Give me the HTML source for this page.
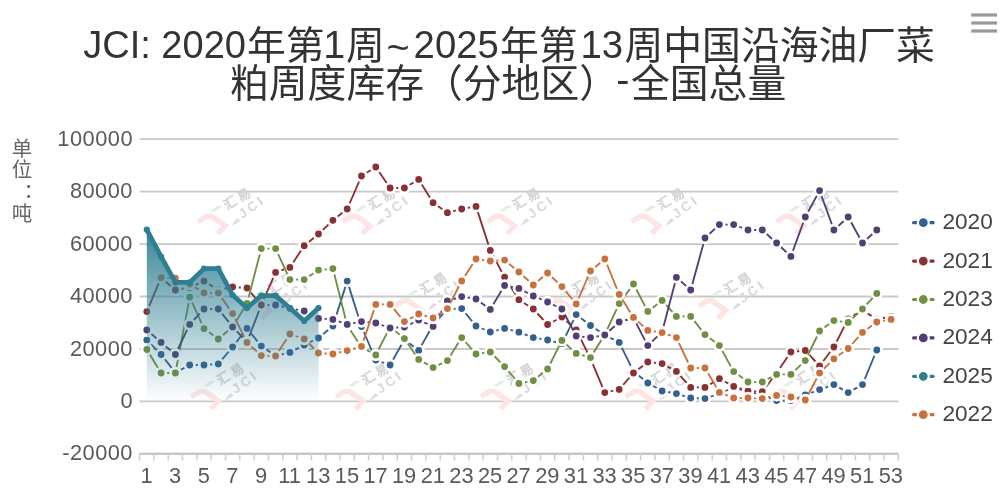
<!DOCTYPE html>
<html lang="zh"><head><meta charset="utf-8"><title>JCI chart</title>
<style>html,body{margin:0;padding:0;background:#fff;}body{width:1008px;height:500px;overflow:hidden;font-family:"Liberation Sans",sans-serif;}svg{display:block;will-change:transform;}text{font-family:"Liberation Sans",sans-serif;}.h{fill:#000;fill-opacity:0;}.cj{font-family:"Liberation Sans","Noto Sans CJK SC",sans-serif;}</style></head><body>
<svg width="1008" height="500" viewBox="0 0 1008 500">
<rect width="1008" height="500" fill="#ffffff"/>
<defs>
<linearGradient id="ag" x1="0" y1="229.6" x2="0" y2="401.4" gradientUnits="userSpaceOnUse"><stop offset="0" stop-color="#2f7f93" stop-opacity="0.95"/><stop offset="1" stop-color="#2f7f93" stop-opacity="0"/></linearGradient>
<clipPath id="pc"><rect x="139.6" y="132" width="758.7" height="322"/></clipPath>
</defs>
<g fill="#333333">
<text class="cj" x="247" y="58.5" font-size="38.8" textLength="77.6" lengthAdjust="spacingAndGlyphs">年第</text>
<text class="cj" x="346" y="58.5" font-size="38.8">周</text>
<text class="cj" x="500" y="58.5" font-size="38.8" textLength="77.6" lengthAdjust="spacingAndGlyphs">年第</text>
<text class="cj" x="624.5" y="58.5" font-size="38.8" textLength="310.4" lengthAdjust="spacingAndGlyphs">周中国沿海油厂菜</text>
<text class="cj" x="230" y="96.5" font-size="38.8" textLength="388" lengthAdjust="spacingAndGlyphs">粕周度库存（分地区）</text>
<text class="cj" x="631" y="96.5" font-size="38.8" textLength="155.2" lengthAdjust="spacingAndGlyphs">全国总量</text>
<text x="83.2" y="57.5" font-size="39.6" textLength="162.8" lengthAdjust="spacingAndGlyphs">JCI: 2020</text>
<text x="323.3" y="57.5" font-size="39.6" textLength="22" lengthAdjust="spacingAndGlyphs">1</text>
<text x="386.5" y="60.5" font-size="39.6" textLength="23.1" lengthAdjust="spacingAndGlyphs">~</text>
<text x="413.6" y="57.5" font-size="39.6" textLength="85.2" lengthAdjust="spacingAndGlyphs">2025</text>
<text x="580.5" y="57.5" font-size="39.6" textLength="42.6" lengthAdjust="spacingAndGlyphs">13</text>
<text x="616.3" y="93.2" font-size="39.6" textLength="13.2" lengthAdjust="spacingAndGlyphs">-</text>
</g>
<text class="h" x="84" y="57" font-size="38.8">JCI: 2020年第1周~2025年第13周中国沿海油厂菜</text>
<text class="h" x="230" y="96" font-size="38.8">粕周度库存（分地区）-全国总量</text>
<g fill="#999999"><rect x="971.2" y="13.4" width="25.8" height="3.2"/><rect x="971.2" y="21.4" width="25.8" height="3.2"/><rect x="971.2" y="29.4" width="25.8" height="3.2"/></g>
<g fill="#666666" class="cj" font-size="20.5">
<text class="cj" x="11.7" y="155.5">单</text>
<text class="cj" x="11.7" y="177">位</text>
<text class="cj" x="23.5" y="198">：</text>
<text class="cj" x="11.7" y="220.7">吨</text>
</g>
<text class="h" x="12" y="156" font-size="21.6">单位：吨</text>
<g stroke="#c9c9c9" stroke-width="1.8">
<line x1="139.6" y1="401.4" x2="898.3" y2="401.4"/>
<line x1="139.6" y1="349" x2="898.3" y2="349"/>
<line x1="139.6" y1="296.5" x2="898.3" y2="296.5"/>
<line x1="139.6" y1="244.1" x2="898.3" y2="244.1"/>
<line x1="139.6" y1="191.7" x2="898.3" y2="191.7"/>
<line x1="139.6" y1="139.2" x2="898.3" y2="139.2"/>
</g>
<line x1="139.6" y1="453.8" x2="898.3" y2="453.8" stroke="#bdbdbd" stroke-width="2"/>
<g stroke="#cfcfcf" stroke-width="1.5">
<line x1="139.6" y1="453.8" x2="139.6" y2="460.6"/>
<line x1="153.9" y1="453.8" x2="153.9" y2="460.6"/>
<line x1="168.2" y1="453.8" x2="168.2" y2="460.6"/>
<line x1="182.5" y1="453.8" x2="182.5" y2="460.6"/>
<line x1="196.9" y1="453.8" x2="196.9" y2="460.6"/>
<line x1="211.2" y1="453.8" x2="211.2" y2="460.6"/>
<line x1="225.5" y1="453.8" x2="225.5" y2="460.6"/>
<line x1="239.8" y1="453.8" x2="239.8" y2="460.6"/>
<line x1="254.1" y1="453.8" x2="254.1" y2="460.6"/>
<line x1="268.4" y1="453.8" x2="268.4" y2="460.6"/>
<line x1="282.8" y1="453.8" x2="282.8" y2="460.6"/>
<line x1="297.1" y1="453.8" x2="297.1" y2="460.6"/>
<line x1="311.4" y1="453.8" x2="311.4" y2="460.6"/>
<line x1="325.7" y1="453.8" x2="325.7" y2="460.6"/>
<line x1="340" y1="453.8" x2="340" y2="460.6"/>
<line x1="354.3" y1="453.8" x2="354.3" y2="460.6"/>
<line x1="368.6" y1="453.8" x2="368.6" y2="460.6"/>
<line x1="383" y1="453.8" x2="383" y2="460.6"/>
<line x1="397.3" y1="453.8" x2="397.3" y2="460.6"/>
<line x1="411.6" y1="453.8" x2="411.6" y2="460.6"/>
<line x1="425.9" y1="453.8" x2="425.9" y2="460.6"/>
<line x1="440.2" y1="453.8" x2="440.2" y2="460.6"/>
<line x1="454.5" y1="453.8" x2="454.5" y2="460.6"/>
<line x1="468.8" y1="453.8" x2="468.8" y2="460.6"/>
<line x1="483.2" y1="453.8" x2="483.2" y2="460.6"/>
<line x1="497.5" y1="453.8" x2="497.5" y2="460.6"/>
<line x1="511.8" y1="453.8" x2="511.8" y2="460.6"/>
<line x1="526.1" y1="453.8" x2="526.1" y2="460.6"/>
<line x1="540.4" y1="453.8" x2="540.4" y2="460.6"/>
<line x1="554.7" y1="453.8" x2="554.7" y2="460.6"/>
<line x1="569.1" y1="453.8" x2="569.1" y2="460.6"/>
<line x1="583.4" y1="453.8" x2="583.4" y2="460.6"/>
<line x1="597.7" y1="453.8" x2="597.7" y2="460.6"/>
<line x1="612" y1="453.8" x2="612" y2="460.6"/>
<line x1="626.3" y1="453.8" x2="626.3" y2="460.6"/>
<line x1="640.6" y1="453.8" x2="640.6" y2="460.6"/>
<line x1="654.9" y1="453.8" x2="654.9" y2="460.6"/>
<line x1="669.3" y1="453.8" x2="669.3" y2="460.6"/>
<line x1="683.6" y1="453.8" x2="683.6" y2="460.6"/>
<line x1="697.9" y1="453.8" x2="697.9" y2="460.6"/>
<line x1="712.2" y1="453.8" x2="712.2" y2="460.6"/>
<line x1="726.5" y1="453.8" x2="726.5" y2="460.6"/>
<line x1="740.8" y1="453.8" x2="740.8" y2="460.6"/>
<line x1="755.1" y1="453.8" x2="755.1" y2="460.6"/>
<line x1="769.5" y1="453.8" x2="769.5" y2="460.6"/>
<line x1="783.8" y1="453.8" x2="783.8" y2="460.6"/>
<line x1="798.1" y1="453.8" x2="798.1" y2="460.6"/>
<line x1="812.4" y1="453.8" x2="812.4" y2="460.6"/>
<line x1="826.7" y1="453.8" x2="826.7" y2="460.6"/>
<line x1="841" y1="453.8" x2="841" y2="460.6"/>
<line x1="855.4" y1="453.8" x2="855.4" y2="460.6"/>
<line x1="869.7" y1="453.8" x2="869.7" y2="460.6"/>
<line x1="884" y1="453.8" x2="884" y2="460.6"/>
<line x1="898.3" y1="453.8" x2="898.3" y2="460.6"/>
</g>
<g fill="#595959" font-size="21.8">
<text x="133" y="460.3" text-anchor="end" letter-spacing="0.5">-20000</text>
<text x="133" y="407.9" text-anchor="end" letter-spacing="0.5">0</text>
<text x="133" y="355.5" text-anchor="end" letter-spacing="0.5">20000</text>
<text x="133" y="303" text-anchor="end" letter-spacing="0.5">40000</text>
<text x="133" y="250.6" text-anchor="end" letter-spacing="0.5">60000</text>
<text x="133" y="198.2" text-anchor="end" letter-spacing="0.5">80000</text>
<text x="133" y="145.7" text-anchor="end" letter-spacing="0.5">100000</text>
<text x="146.5" y="483.0" text-anchor="middle">1</text>
<text x="175.1" y="483.0" text-anchor="middle">3</text>
<text x="203.7" y="483.0" text-anchor="middle">5</text>
<text x="232.3" y="483.0" text-anchor="middle">7</text>
<text x="261" y="483.0" text-anchor="middle">9</text>
<text x="289.6" y="483.0" text-anchor="middle">11</text>
<text x="318.2" y="483.0" text-anchor="middle">13</text>
<text x="346.9" y="483.0" text-anchor="middle">15</text>
<text x="375.5" y="483.0" text-anchor="middle">17</text>
<text x="404.1" y="483.0" text-anchor="middle">19</text>
<text x="432.8" y="483.0" text-anchor="middle">21</text>
<text x="461.4" y="483.0" text-anchor="middle">23</text>
<text x="490" y="483.0" text-anchor="middle">25</text>
<text x="518.6" y="483.0" text-anchor="middle">27</text>
<text x="547.3" y="483.0" text-anchor="middle">29</text>
<text x="575.9" y="483.0" text-anchor="middle">31</text>
<text x="604.5" y="483.0" text-anchor="middle">33</text>
<text x="633.2" y="483.0" text-anchor="middle">35</text>
<text x="661.8" y="483.0" text-anchor="middle">37</text>
<text x="690.4" y="483.0" text-anchor="middle">39</text>
<text x="719.1" y="483.0" text-anchor="middle">41</text>
<text x="747.7" y="483.0" text-anchor="middle">43</text>
<text x="776.3" y="483.0" text-anchor="middle">45</text>
<text x="805" y="483.0" text-anchor="middle">47</text>
<text x="833.6" y="483.0" text-anchor="middle">49</text>
<text x="862.2" y="483.0" text-anchor="middle">51</text>
<text x="890.8" y="483.0" text-anchor="middle">53</text>
</g>
<g clip-path="url(#pc)">
<g transform="translate(206 214.4)"><polyline points="-8,7.2 0.8,1.9 5.6,1.9 19.2,11.5 11.7,19.5" fill="none" stroke="#fde5e5" stroke-width="5.4" stroke-linejoin="miter"/><polygon points="3.7,-3.2 12,-9.1 16.5,-8 8.5,-2.9" fill="#e1f0e4"/><polygon points="25.4,11.1 30.9,3.8 34.6,6.1 28.8,9.8" fill="#dedede"/><g fill="#d2d2d2" stroke="#d2d2d2" stroke-width="0.55" font-size="13" text-anchor="middle"><text class="cj" transform="translate(24 -11.8) rotate(-32)" y="5">汇</text><text class="cj" transform="translate(37.6 -19.8) rotate(-32)" y="5">易</text></g><text transform="translate(36.6 4.6) rotate(-36)" font-size="13.2" font-weight="bold" letter-spacing="3.0" fill="#d8d8d8" font-family='"Liberation Sans", sans-serif'>JCI</text></g>
<g transform="translate(350.6 214.4)"><polyline points="-8,7.2 0.8,1.9 5.6,1.9 19.2,11.5 11.7,19.5" fill="none" stroke="#fde5e5" stroke-width="5.4" stroke-linejoin="miter"/><polygon points="3.7,-3.2 12,-9.1 16.5,-8 8.5,-2.9" fill="#e1f0e4"/><polygon points="25.4,11.1 30.9,3.8 34.6,6.1 28.8,9.8" fill="#dedede"/><g fill="#d2d2d2" stroke="#d2d2d2" stroke-width="0.55" font-size="13" text-anchor="middle"><text class="cj" transform="translate(24 -11.8) rotate(-32)" y="5">汇</text><text class="cj" transform="translate(37.6 -19.8) rotate(-32)" y="5">易</text></g><text transform="translate(36.6 4.6) rotate(-36)" font-size="13.2" font-weight="bold" letter-spacing="3.0" fill="#d8d8d8" font-family='"Liberation Sans", sans-serif'>JCI</text></g>
<g transform="translate(495.2 214.4)"><polyline points="-8,7.2 0.8,1.9 5.6,1.9 19.2,11.5 11.7,19.5" fill="none" stroke="#fde5e5" stroke-width="5.4" stroke-linejoin="miter"/><polygon points="3.7,-3.2 12,-9.1 16.5,-8 8.5,-2.9" fill="#e1f0e4"/><polygon points="25.4,11.1 30.9,3.8 34.6,6.1 28.8,9.8" fill="#dedede"/><g fill="#d2d2d2" stroke="#d2d2d2" stroke-width="0.55" font-size="13" text-anchor="middle"><text class="cj" transform="translate(24 -11.8) rotate(-32)" y="5">汇</text><text class="cj" transform="translate(37.6 -19.8) rotate(-32)" y="5">易</text></g><text transform="translate(36.6 4.6) rotate(-36)" font-size="13.2" font-weight="bold" letter-spacing="3.0" fill="#d8d8d8" font-family='"Liberation Sans", sans-serif'>JCI</text></g>
<g transform="translate(639.8 214.4)"><polyline points="-8,7.2 0.8,1.9 5.6,1.9 19.2,11.5 11.7,19.5" fill="none" stroke="#fde5e5" stroke-width="5.4" stroke-linejoin="miter"/><polygon points="3.7,-3.2 12,-9.1 16.5,-8 8.5,-2.9" fill="#e1f0e4"/><polygon points="25.4,11.1 30.9,3.8 34.6,6.1 28.8,9.8" fill="#dedede"/><g fill="#d2d2d2" stroke="#d2d2d2" stroke-width="0.55" font-size="13" text-anchor="middle"><text class="cj" transform="translate(24 -11.8) rotate(-32)" y="5">汇</text><text class="cj" transform="translate(37.6 -19.8) rotate(-32)" y="5">易</text></g><text transform="translate(36.6 4.6) rotate(-36)" font-size="13.2" font-weight="bold" letter-spacing="3.0" fill="#d8d8d8" font-family='"Liberation Sans", sans-serif'>JCI</text></g>
<g transform="translate(784.4 214.4)"><polyline points="-8,7.2 0.8,1.9 5.6,1.9 19.2,11.5 11.7,19.5" fill="none" stroke="#fde5e5" stroke-width="5.4" stroke-linejoin="miter"/><polygon points="3.7,-3.2 12,-9.1 16.5,-8 8.5,-2.9" fill="#e1f0e4"/><polygon points="25.4,11.1 30.9,3.8 34.6,6.1 28.8,9.8" fill="#dedede"/><g fill="#d2d2d2" stroke="#d2d2d2" stroke-width="0.55" font-size="13" text-anchor="middle"><text class="cj" transform="translate(24 -11.8) rotate(-32)" y="5">汇</text><text class="cj" transform="translate(37.6 -19.8) rotate(-32)" y="5">易</text></g><text transform="translate(36.6 4.6) rotate(-36)" font-size="13.2" font-weight="bold" letter-spacing="3.0" fill="#d8d8d8" font-family='"Liberation Sans", sans-serif'>JCI</text></g>
<g transform="translate(250 298.9)"><polyline points="-8,7.2 0.8,1.9 5.6,1.9 19.2,11.5 11.7,19.5" fill="none" stroke="#fde5e5" stroke-width="5.4" stroke-linejoin="miter"/><polygon points="3.7,-3.2 12,-9.1 16.5,-8 8.5,-2.9" fill="#e1f0e4"/><polygon points="25.4,11.1 30.9,3.8 34.6,6.1 28.8,9.8" fill="#dedede"/><g fill="#d2d2d2" stroke="#d2d2d2" stroke-width="0.55" font-size="13" text-anchor="middle"><text class="cj" transform="translate(24 -11.8) rotate(-32)" y="5">汇</text><text class="cj" transform="translate(37.6 -19.8) rotate(-32)" y="5">易</text></g><text transform="translate(36.6 4.6) rotate(-36)" font-size="13.2" font-weight="bold" letter-spacing="3.0" fill="#d8d8d8" font-family='"Liberation Sans", sans-serif'>JCI</text></g>
<g transform="translate(402.3 298.9)"><polyline points="-8,7.2 0.8,1.9 5.6,1.9 19.2,11.5 11.7,19.5" fill="none" stroke="#fde5e5" stroke-width="5.4" stroke-linejoin="miter"/><polygon points="3.7,-3.2 12,-9.1 16.5,-8 8.5,-2.9" fill="#e1f0e4"/><polygon points="25.4,11.1 30.9,3.8 34.6,6.1 28.8,9.8" fill="#dedede"/><g fill="#d2d2d2" stroke="#d2d2d2" stroke-width="0.55" font-size="13" text-anchor="middle"><text class="cj" transform="translate(24 -11.8) rotate(-32)" y="5">汇</text><text class="cj" transform="translate(37.6 -19.8) rotate(-32)" y="5">易</text></g><text transform="translate(36.6 4.6) rotate(-36)" font-size="13.2" font-weight="bold" letter-spacing="3.0" fill="#d8d8d8" font-family='"Liberation Sans", sans-serif'>JCI</text></g>
<g transform="translate(554.5 298.9)"><polyline points="-8,7.2 0.8,1.9 5.6,1.9 19.2,11.5 11.7,19.5" fill="none" stroke="#fde5e5" stroke-width="5.4" stroke-linejoin="miter"/><polygon points="3.7,-3.2 12,-9.1 16.5,-8 8.5,-2.9" fill="#e1f0e4"/><polygon points="25.4,11.1 30.9,3.8 34.6,6.1 28.8,9.8" fill="#dedede"/><g fill="#d2d2d2" stroke="#d2d2d2" stroke-width="0.55" font-size="13" text-anchor="middle"><text class="cj" transform="translate(24 -11.8) rotate(-32)" y="5">汇</text><text class="cj" transform="translate(37.6 -19.8) rotate(-32)" y="5">易</text></g><text transform="translate(36.6 4.6) rotate(-36)" font-size="13.2" font-weight="bold" letter-spacing="3.0" fill="#d8d8d8" font-family='"Liberation Sans", sans-serif'>JCI</text></g>
<g transform="translate(706.4 298.9)"><polyline points="-8,7.2 0.8,1.9 5.6,1.9 19.2,11.5 11.7,19.5" fill="none" stroke="#fde5e5" stroke-width="5.4" stroke-linejoin="miter"/><polygon points="3.7,-3.2 12,-9.1 16.5,-8 8.5,-2.9" fill="#e1f0e4"/><polygon points="25.4,11.1 30.9,3.8 34.6,6.1 28.8,9.8" fill="#dedede"/><g fill="#d2d2d2" stroke="#d2d2d2" stroke-width="0.55" font-size="13" text-anchor="middle"><text class="cj" transform="translate(24 -11.8) rotate(-32)" y="5">汇</text><text class="cj" transform="translate(37.6 -19.8) rotate(-32)" y="5">易</text></g><text transform="translate(36.6 4.6) rotate(-36)" font-size="13.2" font-weight="bold" letter-spacing="3.0" fill="#d8d8d8" font-family='"Liberation Sans", sans-serif'>JCI</text></g>
<g transform="translate(199.2 389.5)"><polyline points="-8,7.2 0.8,1.9 5.6,1.9 19.2,11.5 11.7,19.5" fill="none" stroke="#fde5e5" stroke-width="5.4" stroke-linejoin="miter"/><polygon points="3.7,-3.2 12,-9.1 16.5,-8 8.5,-2.9" fill="#e1f0e4"/><polygon points="25.4,11.1 30.9,3.8 34.6,6.1 28.8,9.8" fill="#dedede"/><g fill="#d2d2d2" stroke="#d2d2d2" stroke-width="0.55" font-size="13" text-anchor="middle"><text class="cj" transform="translate(24 -11.8) rotate(-32)" y="5">汇</text><text class="cj" transform="translate(37.6 -19.8) rotate(-32)" y="5">易</text></g><text transform="translate(36.6 4.6) rotate(-36)" font-size="13.2" font-weight="bold" letter-spacing="3.0" fill="#d8d8d8" font-family='"Liberation Sans", sans-serif'>JCI</text></g>
<g transform="translate(344 389.5)"><polyline points="-8,7.2 0.8,1.9 5.6,1.9 19.2,11.5 11.7,19.5" fill="none" stroke="#fde5e5" stroke-width="5.4" stroke-linejoin="miter"/><polygon points="3.7,-3.2 12,-9.1 16.5,-8 8.5,-2.9" fill="#e1f0e4"/><polygon points="25.4,11.1 30.9,3.8 34.6,6.1 28.8,9.8" fill="#dedede"/><g fill="#d2d2d2" stroke="#d2d2d2" stroke-width="0.55" font-size="13" text-anchor="middle"><text class="cj" transform="translate(24 -11.8) rotate(-32)" y="5">汇</text><text class="cj" transform="translate(37.6 -19.8) rotate(-32)" y="5">易</text></g><text transform="translate(36.6 4.6) rotate(-36)" font-size="13.2" font-weight="bold" letter-spacing="3.0" fill="#d8d8d8" font-family='"Liberation Sans", sans-serif'>JCI</text></g>
<g transform="translate(488.8 389.5)"><polyline points="-8,7.2 0.8,1.9 5.6,1.9 19.2,11.5 11.7,19.5" fill="none" stroke="#fde5e5" stroke-width="5.4" stroke-linejoin="miter"/><polygon points="3.7,-3.2 12,-9.1 16.5,-8 8.5,-2.9" fill="#e1f0e4"/><polygon points="25.4,11.1 30.9,3.8 34.6,6.1 28.8,9.8" fill="#dedede"/><g fill="#d2d2d2" stroke="#d2d2d2" stroke-width="0.55" font-size="13" text-anchor="middle"><text class="cj" transform="translate(24 -11.8) rotate(-32)" y="5">汇</text><text class="cj" transform="translate(37.6 -19.8) rotate(-32)" y="5">易</text></g><text transform="translate(36.6 4.6) rotate(-36)" font-size="13.2" font-weight="bold" letter-spacing="3.0" fill="#d8d8d8" font-family='"Liberation Sans", sans-serif'>JCI</text></g>
<g transform="translate(633.6 389.5)"><polyline points="-8,7.2 0.8,1.9 5.6,1.9 19.2,11.5 11.7,19.5" fill="none" stroke="#fde5e5" stroke-width="5.4" stroke-linejoin="miter"/><polygon points="3.7,-3.2 12,-9.1 16.5,-8 8.5,-2.9" fill="#e1f0e4"/><polygon points="25.4,11.1 30.9,3.8 34.6,6.1 28.8,9.8" fill="#dedede"/><g fill="#d2d2d2" stroke="#d2d2d2" stroke-width="0.55" font-size="13" text-anchor="middle"><text class="cj" transform="translate(24 -11.8) rotate(-32)" y="5">汇</text><text class="cj" transform="translate(37.6 -19.8) rotate(-32)" y="5">易</text></g><text transform="translate(36.6 4.6) rotate(-36)" font-size="13.2" font-weight="bold" letter-spacing="3.0" fill="#d8d8d8" font-family='"Liberation Sans", sans-serif'>JCI</text></g>
<g transform="translate(778.4 389.5)"><polyline points="-8,7.2 0.8,1.9 5.6,1.9 19.2,11.5 11.7,19.5" fill="none" stroke="#fde5e5" stroke-width="5.4" stroke-linejoin="miter"/><polygon points="3.7,-3.2 12,-9.1 16.5,-8 8.5,-2.9" fill="#e1f0e4"/><polygon points="25.4,11.1 30.9,3.8 34.6,6.1 28.8,9.8" fill="#dedede"/><g fill="#d2d2d2" stroke="#d2d2d2" stroke-width="0.55" font-size="13" text-anchor="middle"><text class="cj" transform="translate(24 -11.8) rotate(-32)" y="5">汇</text><text class="cj" transform="translate(37.6 -19.8) rotate(-32)" y="5">易</text></g><text transform="translate(36.6 4.6) rotate(-36)" font-size="13.2" font-weight="bold" letter-spacing="3.0" fill="#d8d8d8" font-family='"Liberation Sans", sans-serif'>JCI</text></g>
</g>
<path d="M146.8 340.1L161.1 354.5L175.4 372.6L189.7 365L204 365L218.3 363.9L232.6 347L247 328.4L261.3 346.1L275.6 356L289.9 352.4L304.2 345L318.5 338L332.9 326L347.2 281.1L361.5 326.5L375.8 360L390.1 365L404.4 339.5L418.7 350.4L433.1 325L447.4 309L461.7 308.6L476 326L490.3 332L504.6 328.4L518.9 332.2L533.3 337.6L547.6 340L561.9 343.7L576.2 314.6L590.5 325.5L604.8 335L619.2 342.4L633.5 371.3L647.8 383L662.1 391L676.4 393.6L690.7 398L705 398.6L719.4 393.5L733.7 387.5L748 391.7L762.3 394.8L776.6 400.6L790.9 400.6L805.3 395L819.6 389.6L833.9 384.6L848.2 392.6L862.5 384.6L876.8 350" fill="none" stroke="#33608f" stroke-width="1.85" stroke-linejoin="round"/>
<g fill="#33608f" stroke="#ffffff" stroke-width="2.8"><circle cx="146.8" cy="340.1" r="4.8"/><circle cx="161.1" cy="354.5" r="4.8"/><circle cx="175.4" cy="372.6" r="4.8"/><circle cx="189.7" cy="365" r="4.8"/><circle cx="204" cy="365" r="4.8"/><circle cx="218.3" cy="363.9" r="4.8"/><circle cx="232.6" cy="347" r="4.8"/><circle cx="247" cy="328.4" r="4.8"/><circle cx="261.3" cy="346.1" r="4.8"/><circle cx="275.6" cy="356" r="4.8"/><circle cx="289.9" cy="352.4" r="4.8"/><circle cx="304.2" cy="345" r="4.8"/><circle cx="318.5" cy="338" r="4.8"/><circle cx="332.9" cy="326" r="4.8"/><circle cx="347.2" cy="281.1" r="4.8"/><circle cx="361.5" cy="326.5" r="4.8"/><circle cx="375.8" cy="360" r="4.8"/><circle cx="390.1" cy="365" r="4.8"/><circle cx="404.4" cy="339.5" r="4.8"/><circle cx="418.7" cy="350.4" r="4.8"/><circle cx="433.1" cy="325" r="4.8"/><circle cx="447.4" cy="309" r="4.8"/><circle cx="461.7" cy="308.6" r="4.8"/><circle cx="476" cy="326" r="4.8"/><circle cx="490.3" cy="332" r="4.8"/><circle cx="504.6" cy="328.4" r="4.8"/><circle cx="518.9" cy="332.2" r="4.8"/><circle cx="533.3" cy="337.6" r="4.8"/><circle cx="547.6" cy="340" r="4.8"/><circle cx="561.9" cy="343.7" r="4.8"/><circle cx="576.2" cy="314.6" r="4.8"/><circle cx="590.5" cy="325.5" r="4.8"/><circle cx="604.8" cy="335" r="4.8"/><circle cx="619.2" cy="342.4" r="4.8"/><circle cx="633.5" cy="371.3" r="4.8"/><circle cx="647.8" cy="383" r="4.8"/><circle cx="662.1" cy="391" r="4.8"/><circle cx="676.4" cy="393.6" r="4.8"/><circle cx="690.7" cy="398" r="4.8"/><circle cx="705" cy="398.6" r="4.8"/><circle cx="719.4" cy="393.5" r="4.8"/><circle cx="733.7" cy="387.5" r="4.8"/><circle cx="748" cy="391.7" r="4.8"/><circle cx="762.3" cy="394.8" r="4.8"/><circle cx="776.6" cy="400.6" r="4.8"/><circle cx="790.9" cy="400.6" r="4.8"/><circle cx="805.3" cy="395" r="4.8"/><circle cx="819.6" cy="389.6" r="4.8"/><circle cx="833.9" cy="384.6" r="4.8"/><circle cx="848.2" cy="392.6" r="4.8"/><circle cx="862.5" cy="384.6" r="4.8"/><circle cx="876.8" cy="350" r="4.8"/></g>
<path d="M146.8 311.6L161.1 277.7L175.4 290L189.7 287.4L204 281.1L218.3 290L232.6 287L247 288L261.3 305L275.6 272.4L289.9 267.4L304.2 245.7L318.5 234L332.9 220.3L347.2 209L361.5 176L375.8 167L390.1 188L404.4 188L418.7 179.4L433.1 202.7L447.4 212.7L461.7 209L476 206.4L490.3 250.4L504.6 277.1L518.9 299.7L533.3 309L547.6 324.5L561.9 317L576.2 329.8L590.5 358.7L604.8 392.6L619.2 389.4L633.5 373L647.8 362L662.1 363.6L676.4 371.4L690.7 387.4L705 387.4L719.4 378.7L733.7 386.4L748 391L762.3 391.6L776.6 373L790.9 352L805.3 350.5L819.6 366L833.9 347L848.2 318.8L862.5 310.4L876.8 319.1L891.1 316.5" fill="none" stroke="#8c2f33" stroke-width="1.85" stroke-linejoin="round"/>
<g fill="#8c2f33" stroke="#ffffff" stroke-width="2.8"><circle cx="146.8" cy="311.6" r="4.8"/><circle cx="161.1" cy="277.7" r="4.8"/><circle cx="175.4" cy="290" r="4.8"/><circle cx="189.7" cy="287.4" r="4.8"/><circle cx="204" cy="281.1" r="4.8"/><circle cx="218.3" cy="290" r="4.8"/><circle cx="232.6" cy="287" r="4.8"/><circle cx="247" cy="288" r="4.8"/><circle cx="261.3" cy="305" r="4.8"/><circle cx="275.6" cy="272.4" r="4.8"/><circle cx="289.9" cy="267.4" r="4.8"/><circle cx="304.2" cy="245.7" r="4.8"/><circle cx="318.5" cy="234" r="4.8"/><circle cx="332.9" cy="220.3" r="4.8"/><circle cx="347.2" cy="209" r="4.8"/><circle cx="361.5" cy="176" r="4.8"/><circle cx="375.8" cy="167" r="4.8"/><circle cx="390.1" cy="188" r="4.8"/><circle cx="404.4" cy="188" r="4.8"/><circle cx="418.7" cy="179.4" r="4.8"/><circle cx="433.1" cy="202.7" r="4.8"/><circle cx="447.4" cy="212.7" r="4.8"/><circle cx="461.7" cy="209" r="4.8"/><circle cx="476" cy="206.4" r="4.8"/><circle cx="490.3" cy="250.4" r="4.8"/><circle cx="504.6" cy="277.1" r="4.8"/><circle cx="518.9" cy="299.7" r="4.8"/><circle cx="533.3" cy="309" r="4.8"/><circle cx="547.6" cy="324.5" r="4.8"/><circle cx="561.9" cy="317" r="4.8"/><circle cx="576.2" cy="329.8" r="4.8"/><circle cx="590.5" cy="358.7" r="4.8"/><circle cx="604.8" cy="392.6" r="4.8"/><circle cx="619.2" cy="389.4" r="4.8"/><circle cx="633.5" cy="373" r="4.8"/><circle cx="647.8" cy="362" r="4.8"/><circle cx="662.1" cy="363.6" r="4.8"/><circle cx="676.4" cy="371.4" r="4.8"/><circle cx="690.7" cy="387.4" r="4.8"/><circle cx="705" cy="387.4" r="4.8"/><circle cx="719.4" cy="378.7" r="4.8"/><circle cx="733.7" cy="386.4" r="4.8"/><circle cx="748" cy="391" r="4.8"/><circle cx="762.3" cy="391.6" r="4.8"/><circle cx="776.6" cy="373" r="4.8"/><circle cx="790.9" cy="352" r="4.8"/><circle cx="805.3" cy="350.5" r="4.8"/><circle cx="819.6" cy="366" r="4.8"/><circle cx="833.9" cy="347" r="4.8"/><circle cx="848.2" cy="318.8" r="4.8"/><circle cx="862.5" cy="310.4" r="4.8"/><circle cx="876.8" cy="319.1" r="4.8"/><circle cx="891.1" cy="316.5" r="4.8"/></g>
<path d="M146.8 349.5L161.1 373L175.4 373L189.7 297.1L204 328.6L218.3 339L232.6 326.7L247 303.4L261.3 248.6L275.6 248.6L289.9 279.6L304.2 279.6L318.5 270.1L332.9 268.6L347.2 325.4L361.5 347L375.8 355L390.1 326.9L404.4 338.6L418.7 359.4L433.1 367.6L447.4 360.6L461.7 337.6L476 354L490.3 352L504.6 366.6L518.9 383.5L533.3 380.6L547.6 369L561.9 340.4L576.2 353.4L590.5 357.6L604.8 334.6L619.2 303.6L633.5 284L647.8 311.4L662.1 300.4L676.4 316.4L690.7 316.4L705 334.6L719.4 345.6L733.7 371.6L748 382L762.3 382L776.6 374.4L790.9 374.4L805.3 360.6L819.6 331L833.9 320.6L848.2 322.4L862.5 309L876.8 293.4" fill="none" stroke="#6f8f43" stroke-width="1.85" stroke-linejoin="round"/>
<g fill="#6f8f43" stroke="#ffffff" stroke-width="2.8"><circle cx="146.8" cy="349.5" r="4.8"/><circle cx="161.1" cy="373" r="4.8"/><circle cx="175.4" cy="373" r="4.8"/><circle cx="189.7" cy="297.1" r="4.8"/><circle cx="204" cy="328.6" r="4.8"/><circle cx="218.3" cy="339" r="4.8"/><circle cx="232.6" cy="326.7" r="4.8"/><circle cx="247" cy="303.4" r="4.8"/><circle cx="261.3" cy="248.6" r="4.8"/><circle cx="275.6" cy="248.6" r="4.8"/><circle cx="289.9" cy="279.6" r="4.8"/><circle cx="304.2" cy="279.6" r="4.8"/><circle cx="318.5" cy="270.1" r="4.8"/><circle cx="332.9" cy="268.6" r="4.8"/><circle cx="347.2" cy="325.4" r="4.8"/><circle cx="361.5" cy="347" r="4.8"/><circle cx="375.8" cy="355" r="4.8"/><circle cx="390.1" cy="326.9" r="4.8"/><circle cx="404.4" cy="338.6" r="4.8"/><circle cx="418.7" cy="359.4" r="4.8"/><circle cx="433.1" cy="367.6" r="4.8"/><circle cx="447.4" cy="360.6" r="4.8"/><circle cx="461.7" cy="337.6" r="4.8"/><circle cx="476" cy="354" r="4.8"/><circle cx="490.3" cy="352" r="4.8"/><circle cx="504.6" cy="366.6" r="4.8"/><circle cx="518.9" cy="383.5" r="4.8"/><circle cx="533.3" cy="380.6" r="4.8"/><circle cx="547.6" cy="369" r="4.8"/><circle cx="561.9" cy="340.4" r="4.8"/><circle cx="576.2" cy="353.4" r="4.8"/><circle cx="590.5" cy="357.6" r="4.8"/><circle cx="604.8" cy="334.6" r="4.8"/><circle cx="619.2" cy="303.6" r="4.8"/><circle cx="633.5" cy="284" r="4.8"/><circle cx="647.8" cy="311.4" r="4.8"/><circle cx="662.1" cy="300.4" r="4.8"/><circle cx="676.4" cy="316.4" r="4.8"/><circle cx="690.7" cy="316.4" r="4.8"/><circle cx="705" cy="334.6" r="4.8"/><circle cx="719.4" cy="345.6" r="4.8"/><circle cx="733.7" cy="371.6" r="4.8"/><circle cx="748" cy="382" r="4.8"/><circle cx="762.3" cy="382" r="4.8"/><circle cx="776.6" cy="374.4" r="4.8"/><circle cx="790.9" cy="374.4" r="4.8"/><circle cx="805.3" cy="360.6" r="4.8"/><circle cx="819.6" cy="331" r="4.8"/><circle cx="833.9" cy="320.6" r="4.8"/><circle cx="848.2" cy="322.4" r="4.8"/><circle cx="862.5" cy="309" r="4.8"/><circle cx="876.8" cy="293.4" r="4.8"/></g>
<path d="M146.8 330L161.1 342.4L175.4 354.5L189.7 324.4L204 309L218.3 309L232.6 326.9L247 342L261.3 305L275.6 305L289.9 308.3L304.2 311L318.5 318.4L332.9 319.4L347.2 324.4L361.5 321.6L375.8 323L390.1 328L404.4 327L418.7 320L433.1 326.4L447.4 301L461.7 296.6L476 299L490.3 309.4L504.6 285.5L518.9 288.4L533.3 296L547.6 302L561.9 309L576.2 336L590.5 337.6L604.8 335L619.2 322L633.5 318L647.8 345.6L662.1 331.9L676.4 277.4L690.7 290L705 238L719.4 224.6L733.7 224.6L748 230L762.3 230L776.6 243L790.9 256.4L805.3 217L819.6 190.6L833.9 230L848.2 217L862.5 243L876.8 230" fill="none" stroke="#513e75" stroke-width="1.85" stroke-linejoin="round"/>
<g fill="#513e75" stroke="#ffffff" stroke-width="2.8"><circle cx="146.8" cy="330" r="4.8"/><circle cx="161.1" cy="342.4" r="4.8"/><circle cx="175.4" cy="354.5" r="4.8"/><circle cx="189.7" cy="324.4" r="4.8"/><circle cx="204" cy="309" r="4.8"/><circle cx="218.3" cy="309" r="4.8"/><circle cx="232.6" cy="326.9" r="4.8"/><circle cx="247" cy="342" r="4.8"/><circle cx="261.3" cy="305" r="4.8"/><circle cx="275.6" cy="305" r="4.8"/><circle cx="289.9" cy="308.3" r="4.8"/><circle cx="304.2" cy="311" r="4.8"/><circle cx="318.5" cy="318.4" r="4.8"/><circle cx="332.9" cy="319.4" r="4.8"/><circle cx="347.2" cy="324.4" r="4.8"/><circle cx="361.5" cy="321.6" r="4.8"/><circle cx="375.8" cy="323" r="4.8"/><circle cx="390.1" cy="328" r="4.8"/><circle cx="404.4" cy="327" r="4.8"/><circle cx="418.7" cy="320" r="4.8"/><circle cx="433.1" cy="326.4" r="4.8"/><circle cx="447.4" cy="301" r="4.8"/><circle cx="461.7" cy="296.6" r="4.8"/><circle cx="476" cy="299" r="4.8"/><circle cx="490.3" cy="309.4" r="4.8"/><circle cx="504.6" cy="285.5" r="4.8"/><circle cx="518.9" cy="288.4" r="4.8"/><circle cx="533.3" cy="296" r="4.8"/><circle cx="547.6" cy="302" r="4.8"/><circle cx="561.9" cy="309" r="4.8"/><circle cx="576.2" cy="336" r="4.8"/><circle cx="590.5" cy="337.6" r="4.8"/><circle cx="604.8" cy="335" r="4.8"/><circle cx="619.2" cy="322" r="4.8"/><circle cx="633.5" cy="318" r="4.8"/><circle cx="647.8" cy="345.6" r="4.8"/><circle cx="662.1" cy="331.9" r="4.8"/><circle cx="676.4" cy="277.4" r="4.8"/><circle cx="690.7" cy="290" r="4.8"/><circle cx="705" cy="238" r="4.8"/><circle cx="719.4" cy="224.6" r="4.8"/><circle cx="733.7" cy="224.6" r="4.8"/><circle cx="748" cy="230" r="4.8"/><circle cx="762.3" cy="230" r="4.8"/><circle cx="776.6" cy="243" r="4.8"/><circle cx="790.9" cy="256.4" r="4.8"/><circle cx="805.3" cy="217" r="4.8"/><circle cx="819.6" cy="190.6" r="4.8"/><circle cx="833.9" cy="230" r="4.8"/><circle cx="848.2" cy="217" r="4.8"/><circle cx="862.5" cy="243" r="4.8"/><circle cx="876.8" cy="230" r="4.8"/></g>
<path d="M161.1 277.7L175.4 278.2L189.7 284L204 293L218.3 293L232.6 313.6L247 342.4L261.3 355.6L275.6 356L289.9 334L304.2 339L318.5 353L332.9 354L347.2 350.6L361.5 346.4L375.8 304.4L390.1 304.4L404.4 321.6L418.7 314L433.1 318L447.4 308.6L461.7 281L476 259L490.3 261L504.6 260.1L518.9 272L533.3 285L547.6 273L561.9 286.6L576.2 304L590.5 271L604.8 259L619.2 294.4L633.5 317.4L647.8 330.4L662.1 332.6L676.4 337.6L690.7 368L705 368L719.4 392.4L733.7 398L748 398L762.3 398.6L776.6 395.4L790.9 397L805.3 400L819.6 373L833.9 358.8L848.2 348.5L862.5 332.4L876.8 322L891.1 319.4" fill="none" stroke="#c8713c" stroke-width="1.85" stroke-linejoin="round"/>
<g fill="#c8713c" stroke="#ffffff" stroke-width="2.8"><circle cx="161.1" cy="277.7" r="4.8"/><circle cx="175.4" cy="278.2" r="4.8"/><circle cx="189.7" cy="284" r="4.8"/><circle cx="204" cy="293" r="4.8"/><circle cx="218.3" cy="293" r="4.8"/><circle cx="232.6" cy="313.6" r="4.8"/><circle cx="247" cy="342.4" r="4.8"/><circle cx="261.3" cy="355.6" r="4.8"/><circle cx="275.6" cy="356" r="4.8"/><circle cx="289.9" cy="334" r="4.8"/><circle cx="304.2" cy="339" r="4.8"/><circle cx="318.5" cy="353" r="4.8"/><circle cx="332.9" cy="354" r="4.8"/><circle cx="347.2" cy="350.6" r="4.8"/><circle cx="361.5" cy="346.4" r="4.8"/><circle cx="375.8" cy="304.4" r="4.8"/><circle cx="390.1" cy="304.4" r="4.8"/><circle cx="404.4" cy="321.6" r="4.8"/><circle cx="418.7" cy="314" r="4.8"/><circle cx="433.1" cy="318" r="4.8"/><circle cx="447.4" cy="308.6" r="4.8"/><circle cx="461.7" cy="281" r="4.8"/><circle cx="476" cy="259" r="4.8"/><circle cx="490.3" cy="261" r="4.8"/><circle cx="504.6" cy="260.1" r="4.8"/><circle cx="518.9" cy="272" r="4.8"/><circle cx="533.3" cy="285" r="4.8"/><circle cx="547.6" cy="273" r="4.8"/><circle cx="561.9" cy="286.6" r="4.8"/><circle cx="576.2" cy="304" r="4.8"/><circle cx="590.5" cy="271" r="4.8"/><circle cx="604.8" cy="259" r="4.8"/><circle cx="619.2" cy="294.4" r="4.8"/><circle cx="633.5" cy="317.4" r="4.8"/><circle cx="647.8" cy="330.4" r="4.8"/><circle cx="662.1" cy="332.6" r="4.8"/><circle cx="676.4" cy="337.6" r="4.8"/><circle cx="690.7" cy="368" r="4.8"/><circle cx="705" cy="368" r="4.8"/><circle cx="719.4" cy="392.4" r="4.8"/><circle cx="733.7" cy="398" r="4.8"/><circle cx="748" cy="398" r="4.8"/><circle cx="762.3" cy="398.6" r="4.8"/><circle cx="776.6" cy="395.4" r="4.8"/><circle cx="790.9" cy="397" r="4.8"/><circle cx="805.3" cy="400" r="4.8"/><circle cx="819.6" cy="373" r="4.8"/><circle cx="833.9" cy="358.8" r="4.8"/><circle cx="848.2" cy="348.5" r="4.8"/><circle cx="862.5" cy="332.4" r="4.8"/><circle cx="876.8" cy="322" r="4.8"/><circle cx="891.1" cy="319.4" r="4.8"/></g>
<circle cx="261.3" cy="305" r="4.8" fill="#8c2f33" stroke="#ffffff" stroke-width="2.8"/>
<path d="M146.8 229.7L161.1 256.7L175.4 282.4L189.7 282.4L204 268.6L218.3 268.6L232.6 295L247 308.1L261.3 295.6L275.6 295.6L289.9 308L304.2 321L318.5 308L318.5 401.4L146.8 401.4Z" fill="url(#ag)"/>
<path d="M146.8 229.7L161.1 256.7L175.4 282.4L189.7 282.4L204 268.6L218.3 268.6L232.6 295L247 308.1L261.3 295.6L275.6 295.6L289.9 308L304.2 321L318.5 308" fill="none" stroke="#2f7f93" stroke-width="4.7" stroke-linejoin="round" stroke-linecap="round"/>
<g fill="#2f7f93"><circle cx="146.8" cy="229.7" r="3.1"/><circle cx="161.1" cy="256.7" r="3.1"/><circle cx="175.4" cy="282.4" r="3.1"/><circle cx="189.7" cy="282.4" r="3.1"/><circle cx="204" cy="268.6" r="3.1"/><circle cx="218.3" cy="268.6" r="3.1"/><circle cx="232.6" cy="295" r="3.1"/><circle cx="247" cy="308.1" r="3.1"/><circle cx="261.3" cy="295.6" r="3.1"/><circle cx="275.6" cy="295.6" r="3.1"/><circle cx="289.9" cy="308" r="3.1"/><circle cx="304.2" cy="321" r="3.1"/><circle cx="318.5" cy="308" r="3.1"/></g>
<g font-size="21.8" fill="#444444">
<line x1="913.6" y1="222.7" x2="933.1" y2="222.7" stroke="#33608f" stroke-width="3.2" stroke-linecap="round"/>
<circle cx="923.3" cy="222.7" r="5.5" fill="#33608f" stroke="#ffffff" stroke-width="2.2"/>
<text x="942.4" y="229.1" textLength="50.4" lengthAdjust="spacingAndGlyphs">2020</text>
<line x1="913.6" y1="261.1" x2="933.1" y2="261.1" stroke="#8c2f33" stroke-width="3.2" stroke-linecap="round"/>
<circle cx="923.3" cy="261.1" r="5.5" fill="#8c2f33" stroke="#ffffff" stroke-width="2.2"/>
<text x="942.4" y="267.5" textLength="50.4" lengthAdjust="spacingAndGlyphs">2021</text>
<line x1="913.6" y1="299.5" x2="933.1" y2="299.5" stroke="#6f8f43" stroke-width="3.2" stroke-linecap="round"/>
<circle cx="923.3" cy="299.5" r="5.5" fill="#6f8f43" stroke="#ffffff" stroke-width="2.2"/>
<text x="942.4" y="305.9" textLength="50.4" lengthAdjust="spacingAndGlyphs">2023</text>
<line x1="913.6" y1="337.9" x2="933.1" y2="337.9" stroke="#513e75" stroke-width="3.2" stroke-linecap="round"/>
<circle cx="923.3" cy="337.9" r="5.5" fill="#513e75" stroke="#ffffff" stroke-width="2.2"/>
<text x="942.4" y="344.3" textLength="50.4" lengthAdjust="spacingAndGlyphs">2024</text>
<line x1="913.6" y1="376.3" x2="933.1" y2="376.3" stroke="#2f7f93" stroke-width="3.2" stroke-linecap="round"/>
<circle cx="923.3" cy="376.3" r="5.5" fill="#2f7f93" stroke="#ffffff" stroke-width="2.2"/>
<text x="942.4" y="382.7" textLength="50.4" lengthAdjust="spacingAndGlyphs">2025</text>
<line x1="913.6" y1="414.7" x2="933.1" y2="414.7" stroke="#c8713c" stroke-width="3.2" stroke-linecap="round"/>
<circle cx="923.3" cy="414.7" r="5.5" fill="#c8713c" stroke="#ffffff" stroke-width="2.2"/>
<text x="942.4" y="421.1" textLength="50.4" lengthAdjust="spacingAndGlyphs">2022</text>
</g>
</svg></body></html>
